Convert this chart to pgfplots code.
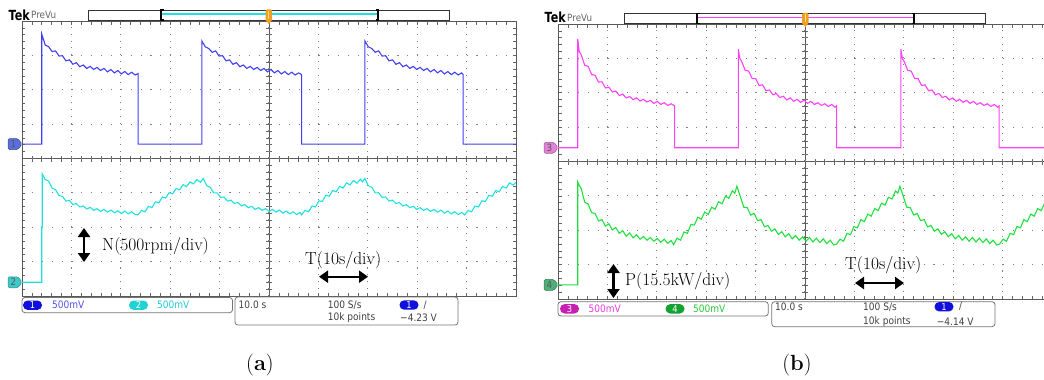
\documentclass[border=0pt]{standalone}
\usepackage{pgfplots}
\pgfplotsset{compat=1.18}
\usetikzlibrary{arrows.meta}
\usepackage{fontspec}
\newfontfamily\tekfont{DejaVu Sans}[FakeStretch=0.88]
\newfontfamily\tekhead{DejaVu Sans}[FakeStretch=0.8]

\definecolor{chA}{RGB}{64,64,240}
\definecolor{chB}{RGB}{32,224,224}
\definecolor{chC}{RGB}{255,64,255}
\definecolor{chD}{RGB}{32,224,64}
\definecolor{flagA}{RGB}{90,110,220}
\definecolor{flagB}{RGB}{64,200,200}
\definecolor{flagC}{RGB}{225,130,215}
\definecolor{flagD}{RGB}{80,175,120}
\definecolor{pillA}{RGB}{16,16,220}
\definecolor{pillB}{RGB}{32,210,210}
\definecolor{pillC}{RGB}{200,30,180}
\definecolor{pillD}{RGB}{20,160,50}
\definecolor{txtA}{RGB}{80,80,230}
\definecolor{txtB}{RGB}{32,200,210}
\definecolor{txtC}{RGB}{230,60,220}
\definecolor{txtD}{RGB}{40,200,60}
\definecolor{trig}{RGB}{240,160,30}

% Tek screen: 10 x 8 divisions, dotted graticule with edge ticks
\pgfplotsset{
  grat/.style={scale only axis, width=494bp, height=275bp,
    xmin=0, xmax=100, ymin=0, ymax=8,
    xtick={10,20,...,90}, ytick={1,2,...,7},
    xticklabels={}, yticklabels={},
    minor xtick={2,4,...,98}, minor ytick={0.2,0.4,...,7.8},
    grid=major, tickpos=both, tick align=inside,
    major tick length=3.5bp, minor tick length=3.5bp,
    tick style={black!60, line width=0.7bp},
    axis line style={black!65, line width=1bp},
    x grid style={black!50, line width=1.1bp, dash pattern=on 1.1bp off 5.775bp},
    y grid style={black!50, line width=1.1bp, dash pattern=on 1.1bp off 8.78bp}},
  % centre cross with ticks on both sides
  cross/.style={scale only axis, width=494bp, height=275bp,
    xmin=-50, xmax=50, ymin=-4, ymax=4, axis lines*=center,
    axis line style={black!65, line width=1bp},
    xtick={-48,-46,...,48}, ytick={-3.8,-3.6,...,3.8},
    xticklabels={}, yticklabels={},
    tick align=center, major tick length=6bp,
    tick style={black!60, line width=0.7bp}}
}

\newcommand\chflag[4]{%
  \filldraw[fill=#3, draw=#3!70!black, line width=0.5bp, rounded corners=1.5bp]
    (#1-14,#2-5.5) -- (#1-4,#2-5.5) -- (#1,#2) -- (#1-4,#2+5.5) -- (#1-14,#2+5.5) -- cycle;
  \node[font=\tekfont\fontsize{10}{10}\selectfont, text=black!65, inner sep=0] at (#1-8.5,#2) {#4};}
\newcommand\pill[4]{%
  \fill[#3, rounded corners=4.6bp] (#1-9.5,#2-4.7) rectangle (#1+9.5,#2+4.7);
  \node[font=\tekfont\fontsize{9.5}{9.5}\selectfont, text=white, inner sep=0] at (#1,#2) {#4};}
\newcommand\tektxt[3]{%
  \node[anchor=west, inner sep=0, font=\tekfont\fontsize{10.3}{11}\selectfont, text=#3] at (#1) {#2};}

\begin{document}
\begin{tikzpicture}[x=1bp, y=1bp]
\path[use as bounding box] (0,0) rectangle (1044,379);

% ---------------- (a) speed ----------------
\begin{axis}[cross, at={(22bp,83bp)}, anchor=south west]
\end{axis}
\begin{axis}[grat, at={(22bp,83bp)}, anchor=south west]
\addplot[chA, line width=1.1bp] table[x=t, y=v] {
t v
0 4.42
4.0 4.42
4.0 7.62
4.7 7.30
5.4 7.25
6.1 7.11
6.8 7.13
7.5 6.98
8.2 6.99
8.9 6.84
9.6 6.87
10.3 6.74
11.0 6.79
11.7 6.67
12.4 6.72
13.1 6.62
13.8 6.68
14.5 6.59
15.2 6.65
15.9 6.56
16.6 6.62
17.3 6.52
18.0 6.59
18.7 6.49
19.4 6.56
20.1 6.46
20.8 6.53
21.5 6.44
22.2 6.51
22.9 6.43
23.5 6.47
23.5 4.42
36.4 4.42
36.4 7.42
37.1 7.25
37.8 7.20
38.5 7.09
39.2 7.13
39.9 6.98
40.6 6.99
41.3 6.84
42.0 6.87
42.7 6.74
43.4 6.79
44.1 6.67
44.8 6.72
45.5 6.62
46.2 6.68
46.9 6.59
47.6 6.65
48.3 6.56
49.0 6.62
49.7 6.52
50.4 6.59
51.1 6.49
51.8 6.56
52.5 6.46
53.2 6.53
53.9 6.44
54.6 6.51
55.3 6.43
56.0 6.49
56.6 6.44
56.6 4.42
69.4 4.42
69.4 7.42
70.1 7.25
70.8 7.20
71.5 7.09
72.2 7.13
72.9 6.98
73.6 6.99
74.3 6.84
75.0 6.87
75.7 6.74
76.4 6.79
77.1 6.67
77.8 6.72
78.5 6.62
79.2 6.68
79.9 6.59
80.6 6.65
81.3 6.56
82.0 6.62
82.7 6.52
83.4 6.59
84.1 6.49
84.8 6.56
85.5 6.46
86.2 6.53
86.9 6.44
87.6 6.51
88.3 6.43
89.0 6.49
89.3 6.44
89.3 4.42
100 4.42
};
\addplot[chB, line width=1.1bp] table[x=t, y=v] {
t v
0 0.40
4.0 0.40
4.0 2.00
4.1 2.00
4.1 3.55
4.7 3.39
5.4 3.34
6.1 3.14
6.8 3.09
7.5 2.92
8.2 2.90
8.9 2.76
9.6 2.78
10.3 2.66
11.0 2.69
11.7 2.59
12.4 2.62
13.1 2.53
13.8 2.58
14.5 2.49
15.2 2.54
15.9 2.46
16.6 2.52
17.3 2.44
18.0 2.50
18.7 2.42
19.4 2.48
20.1 2.40
20.8 2.47
21.5 2.39
22.2 2.45
22.9 2.37
23.5 2.36
24.2 2.49
24.9 2.45
25.6 2.61
26.3 2.57
27.0 2.74
27.7 2.71
28.4 2.88
29.1 2.85
29.8 3.01
30.5 2.97
31.2 3.13
31.9 3.09
32.6 3.24
33.3 3.18
34.0 3.32
34.7 3.26
35.4 3.39
36.1 3.31
36.7 3.42
37.4 3.21
38.1 3.16
38.8 3.00
39.5 3.00
40.2 2.87
40.9 2.88
41.6 2.76
42.3 2.79
43.0 2.69
43.7 2.72
44.4 2.62
45.1 2.66
45.8 2.57
46.5 2.61
47.2 2.52
47.9 2.57
48.6 2.49
49.3 2.54
50.0 2.46
50.7 2.52
51.4 2.44
52.1 2.50
52.8 2.41
53.5 2.47
54.2 2.39
54.9 2.45
55.6 2.37
56.3 2.43
56.6 2.36
57.3 2.49
58.0 2.45
58.7 2.62
59.4 2.59
60.1 2.77
60.8 2.75
61.5 2.93
62.2 2.90
62.9 3.07
63.6 3.03
64.3 3.19
65.0 3.14
65.7 3.29
66.4 3.23
67.1 3.36
67.8 3.28
68.5 3.40
68.9 3.32
69.4 3.42
70.1 3.21
70.8 3.16
71.5 3.00
72.2 3.00
72.9 2.87
73.6 2.88
74.3 2.76
75.0 2.79
75.7 2.69
76.4 2.72
77.1 2.62
77.8 2.66
78.5 2.57
79.2 2.61
79.9 2.52
80.6 2.57
81.3 2.49
82.0 2.54
82.7 2.46
83.4 2.52
84.1 2.44
84.8 2.50
85.5 2.41
86.2 2.47
86.9 2.39
87.6 2.45
88.3 2.37
89.0 2.43
89.6 2.36
90.3 2.49
91.0 2.45
91.7 2.62
92.4 2.59
93.1 2.77
93.8 2.75
94.5 2.93
95.2 2.90
95.9 3.07
96.6 3.03
97.3 3.19
98.0 3.14
98.7 3.29
99.4 3.23
100 3.30
};
\end{axis}

% ---------------- (b) power ----------------
\begin{axis}[cross, at={(558bp,80bp)}, anchor=south west]
\end{axis}
\begin{axis}[grat, at={(558bp,80bp)}, anchor=south west]
\addplot[chC, line width=1.1bp] table[x=t, y=v] {
t v
0 4.40
4.0 4.40
4.0 7.56
4.3 7.20
4.7 7.10
5.4 6.80
6.1 6.77
6.8 6.53
7.5 6.51
8.2 6.31
8.9 6.32
9.6 6.14
10.3 6.16
11.0 6.02
11.7 6.05
12.4 5.92
13.1 5.96
13.8 5.85
14.5 5.89
15.2 5.80
15.9 5.85
16.6 5.76
17.3 5.81
18.0 5.73
18.7 5.78
19.4 5.69
20.1 5.75
20.8 5.66
21.5 5.71
22.2 5.63
22.9 5.68
23.6 5.62
23.6 4.40
36.5 4.40
36.5 7.27
36.8 7.00
37.2 6.90
37.9 6.65
38.6 6.63
39.3 6.41
40.0 6.41
40.7 6.21
41.4 6.23
42.1 6.06
42.8 6.08
43.5 5.94
44.2 5.98
44.9 5.86
45.6 5.90
46.3 5.79
47.0 5.85
47.7 5.75
48.4 5.81
49.1 5.72
49.8 5.78
50.5 5.69
51.2 5.75
51.9 5.66
52.6 5.71
53.3 5.63
54.0 5.68
54.7 5.60
55.4 5.66
56.1 5.58
56.4 5.62
56.4 4.40
69.4 4.40
69.4 7.27
69.7 7.00
70.1 6.90
70.8 6.65
71.5 6.63
72.2 6.41
72.9 6.41
73.6 6.21
74.3 6.23
75.0 6.06
75.7 6.08
76.4 5.94
77.1 5.98
77.8 5.86
78.5 5.90
79.2 5.79
79.9 5.85
80.6 5.75
81.3 5.81
82.0 5.72
82.7 5.78
83.4 5.69
84.1 5.75
84.8 5.66
85.5 5.71
86.2 5.63
86.9 5.68
87.6 5.60
88.3 5.66
89.0 5.58
89.3 5.62
89.3 4.40
100 4.40
};
\addplot[chD, line width=1.1bp] table[x=t, y=v] {
t v
0 0.41
4.0 0.41
4.0 3.40
4.3 3.30
4.7 3.21
5.4 2.82
6.1 2.76
6.8 2.51
7.5 2.49
8.2 2.27
8.9 2.31
9.6 2.12
10.3 2.19
11.0 2.01
11.7 2.08
12.4 1.91
13.1 1.99
13.8 1.83
14.5 1.92
15.2 1.78
15.9 1.87
16.6 1.74
17.3 1.82
18.0 1.71
18.7 1.79
19.4 1.68
20.1 1.76
20.8 1.65
21.5 1.74
22.2 1.62
22.9 1.70
23.4 1.58
24.1 1.77
24.8 1.71
25.5 1.95
26.2 1.91
26.9 2.17
27.6 2.15
28.3 2.38
29.0 2.32
29.7 2.53
30.4 2.46
31.1 2.67
31.8 2.61
32.5 2.83
33.2 2.77
33.9 2.99
34.6 2.93
35.3 3.15
35.8 3.08
36.2 3.28
36.9 2.98
37.6 2.67
38.3 2.66
39.0 2.44
39.7 2.49
40.4 2.28
41.1 2.31
41.8 2.10
42.5 2.14
43.2 1.97
43.9 2.04
44.6 1.88
45.3 1.96
46.0 1.81
46.7 1.90
47.4 1.75
48.1 1.85
48.8 1.71
49.5 1.81
50.2 1.68
50.9 1.79
51.6 1.66
52.3 1.77
53.0 1.64
53.7 1.75
54.4 1.61
55.1 1.71
55.8 1.57
56.4 1.60
57.1 1.74
57.8 1.68
58.5 1.91
59.2 1.87
59.9 2.11
60.6 2.07
61.3 2.31
62.0 2.25
62.7 2.47
63.4 2.41
64.1 2.63
64.8 2.57
65.5 2.79
66.2 2.73
66.9 2.96
67.6 2.91
68.3 3.14
68.8 3.08
69.2 3.28
69.9 2.98
70.6 2.67
71.3 2.66
72.0 2.44
72.7 2.49
73.4 2.28
74.1 2.31
74.8 2.10
75.5 2.14
76.2 1.97
76.9 2.04
77.6 1.88
78.3 1.96
79.0 1.81
79.7 1.90
80.4 1.75
81.1 1.85
81.8 1.71
82.5 1.81
83.2 1.68
83.9 1.79
84.6 1.66
85.3 1.77
86.0 1.64
86.7 1.75
87.4 1.61
88.1 1.71
88.8 1.57
89.4 1.60
90.1 1.74
90.8 1.68
91.5 1.91
92.2 1.87
92.9 2.11
93.6 2.07
94.3 2.31
95.0 2.25
95.7 2.47
96.4 2.41
97.1 2.63
97.8 2.57
98.5 2.79
99.2 2.73
100 2.96
};
\end{axis}

% ---------------- screen furniture (a) ----------------
\node[anchor=base west, inner sep=0, font=\tekhead\bfseries\fontsize{14}{14}\selectfont] at (8.5,359) {Tek};
\node[anchor=base west, inner sep=0, font=\tekfont\fontsize{10}{10}\selectfont, text=black!60] at (31,360.5) {PreVu};
\draw[black!80, line width=0.6bp] (88,359) rectangle (449,369);
\draw[chB, line width=1.6bp] (161,365) -- (378,365);
\draw[black, line width=1.2bp] (163.5,369) -- (161,369) -- (161,359) -- (163.5,359);
\draw[black, line width=1.2bp] (375.5,369) -- (378,369) -- (378,359) -- (375.5,359);
\fill[trig, rounded corners=1.5bp] (265.5,358) rectangle (272,369.5);
\fill[trig] (265.5,359) -- (272,359) -- (268.8,355) -- cycle;
\draw[trig!40!white, line width=0.8bp] (268.8,360) -- (268.8,367.5);

\chflag{22}{234.9}{flagA}{1}
\chflag{22}{96.75}{flagB}{2}

\draw[black!55, line width=0.8bp, rounded corners=3bp] (22,81.5) rectangle (232.5,66.3);
\pill{32.5}{73.8}{pillA}{1}
\tektxt{52,73.8}{500mV}{txtA}
\pill{138.5}{73.8}{pillB}{2}
\tektxt{157,73.8}{500mV}{txtB}
\draw[black!55, line width=0.8bp, rounded corners=3bp] (235,82) rectangle (458,54);
\tektxt{238.5,74}{10.0 s}{black!75}
\tektxt{327.7,74}{100 S/s}{black!75}
\pill{409}{74}{pillA}{1}
\tektxt{423.5,74}{/}{black!75}
\tektxt{327.7,61.7}{10k points}{black!75}
\tektxt{400,61.7}{−4.23 V}{black!75}

\draw[{Triangle[width=12bp,length=9bp]}-{Triangle[width=12bp,length=9bp]}, line width=2.2bp] (84,151) -- (84,117);
\node[anchor=west, inner sep=0, font=\fontsize{17.5}{18}\selectfont] at (102,132.5) {N(500rpm/div)};
\node[anchor=west, inner sep=0, font=\fontsize{17.5}{18}\selectfont] at (305,118.5) {T(10s/div)};
\draw[{Triangle[width=12bp,length=9bp]}-{Triangle[width=12bp,length=9bp]}, line width=2.2bp] (319,102.3) -- (368,102.3);
\node[anchor=base, inner sep=0, font=\fontsize{22}{24}\selectfont] at (260,9) {(\textbf{a})};

% ---------------- screen furniture (b) ----------------
\node[anchor=base west, inner sep=0, font=\tekhead\bfseries\fontsize{14}{14}\selectfont] at (544.5,356.5) {Tek};
\node[anchor=base west, inner sep=0, font=\tekfont\fontsize{10}{10}\selectfont, text=black!60] at (567,358) {PreVu};
\draw[black!80, line width=0.6bp] (624,355.7) rectangle (985,365.7);
\draw[chC, line width=1.4bp] (697,361.5) -- (914,361.5);
\draw[black, line width=1.2bp] (699.5,365.7) -- (697,365.7) -- (697,355.7) -- (699.5,355.7);
\draw[black, line width=1.2bp] (911.5,365.7) -- (914,365.7) -- (914,355.7) -- (911.5,355.7);
\fill[trig, rounded corners=1.5bp] (802,355) rectangle (808.5,366.2);
\fill[trig] (802,356) -- (808.5,356) -- (805.3,352) -- cycle;
\draw[trig!40!white, line width=0.8bp] (805.3,357) -- (805.3,364.5);

\chflag{558}{231.25}{flagC}{3}
\chflag{558}{94.1}{flagD}{4}

\draw[black!55, line width=0.8bp, rounded corners=3bp] (558,77.3) rectangle (768.3,63);
\pill{569.5}{70.2}{pillC}{3}
\tektxt{588.5,70.2}{500mV}{txtC}
\pill{675}{70.2}{pillD}{4}
\tektxt{693,70.2}{500mV}{txtD}
\draw[black!55, line width=0.8bp, rounded corners=3bp] (771.7,77.3) rectangle (995,52.3);
\tektxt{775,72.3}{10.0 s}{black!75}
\tektxt{863,72.3}{100 S/s}{black!75}
\pill{944}{72.3}{pillA}{1}
\tektxt{959,72.3}{/}{black!75}
\tektxt{863,57.3}{10k points}{black!75}
\tektxt{936.7,57.3}{−4.14 V}{black!75}

\draw[{Triangle[width=12bp,length=9bp]}-{Triangle[width=12bp,length=9bp]}, line width=2.2bp] (613.5,115) -- (613.5,81);
\node[anchor=west, inner sep=0, font=\fontsize{17.5}{18}\selectfont] at (625,98) {P(15.5kW/div)};
\node[anchor=west, inner sep=0, font=\fontsize{17.5}{18}\selectfont] at (845,114) {T(10s/div)};
\draw[{Triangle[width=12bp,length=9bp]}-{Triangle[width=12bp,length=9bp]}, line width=2.2bp] (855,96) -- (904,96);
\node[anchor=base, inner sep=0, font=\fontsize{22}{24}\selectfont] at (797,9) {(\textbf{b})};
\end{tikzpicture}
\end{document}
